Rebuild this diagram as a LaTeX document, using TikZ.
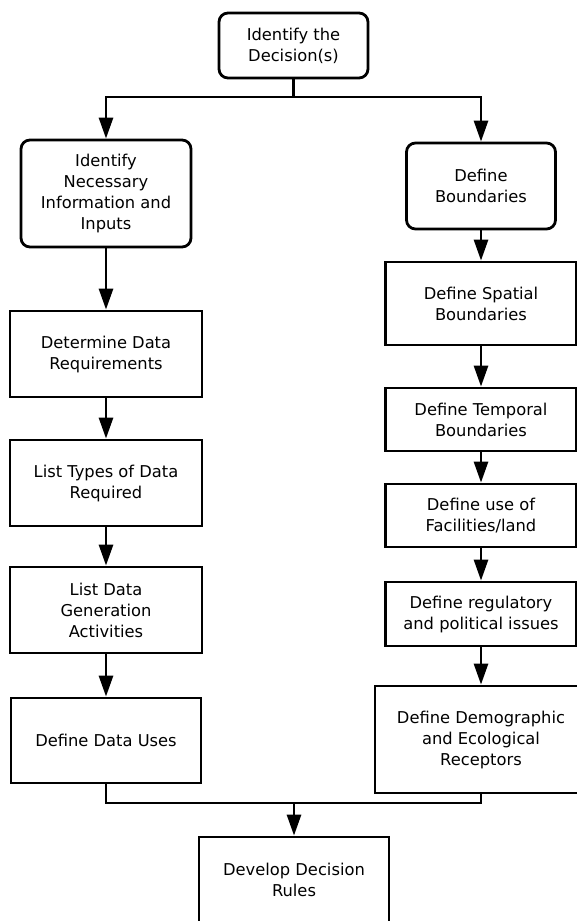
\documentclass[tikz,border=0pt]{standalone}
\usepackage{fontspec}
\setmainfont{DejaVu Sans}
\usepackage{tikz}
\usetikzlibrary{positioning, arrows, arrows.meta, shapes}
\tikzstyle{milestone} = [rectangle, rounded corners=9pt, draw=black, line width=2.8pt, inner sep=0pt, align=center, text=black, font=\fontsize{16.3}{21}\selectfont]
\tikzstyle{task} = [rectangle, draw=black, line width=2.8pt, inner sep=0pt, align=center, text=black, font=\fontsize{16.3}{21}\selectfont]
\tikzstyle{arrow} = [line width=2.8pt, -{Triangle[length=21pt, width=14pt]}]
\tikzstyle{line} = [line width=2.8pt]

\begin{document}
\begin{tikzpicture}[x=1pt, y=-1pt]
            \clip (0,0) rectangle (577,921);
            \fill[white] (0,0) rectangle (577,921);

            % top of the tree
            \node (decision) [milestone, minimum width=149pt, minimum height=65pt] at (293.5,45.5) {Identify the\\Decision(s)};

            % left branch
            \node (necessary) [milestone, minimum width=170pt, minimum height=107pt] at (106,193.5) {Identify\\Necessary\\Information and\\Inputs};
            \node (requirements) [task, minimum width=192pt, minimum height=86pt] at (106,354) {Determine Data\\Requirements};
            \node (types) [task, minimum width=192pt, minimum height=86pt] at (106,483) {List Types of Data\\Required};
            \node (generation) [task, minimum width=192pt, minimum height=86pt] at (106,610) {List Data\\Generation\\Activities};
            \node (uses) [task, minimum width=190pt, minimum height=85pt] at (106,740.5) {Define Data Uses};

            % right branch
            \node (boundaries) [milestone, minimum width=149pt, minimum height=86pt] at (481,186) {Define\\Boundaries};
            \node (spatial) [task, minimum width=191pt, minimum height=83pt] at (481,303.5) {Define Spatial\\Boundaries};
            \node (temporal) [task, minimum width=191pt, minimum height=63pt] at (481,419.5) {Define Temporal\\Boundaries};
            \node (facilities) [task, minimum width=191pt, minimum height=63pt] at (481,515.5) {Define use of\\Facilities/land};
            \node (regulatory) [task, minimum width=191pt, minimum height=64pt] at (481,614) {Define regulatory\\and political issues};
            \node (receptors) [task, minimum width=212pt, minimum height=107pt] at (481,739.5) {Define Demographic\\and Ecological\\Receptors};

            % bottom
            \node (rules) [task, minimum width=190pt, minimum height=86pt] at (294,880) {Develop Decision\\Rules};

            \coordinate (split) at (293.5,97);
            \coordinate (merge) at (294,803);

            \draw [line] (decision) -- (split);
            \draw [arrow] (split) -| (necessary);
            \draw [arrow] (split) -| (boundaries);

            \draw [arrow] (necessary) -- (requirements);
            \draw [arrow] (requirements) -- (types);
            \draw [arrow] (types) -- (generation);
            \draw [arrow] (generation) -- (uses);

            \draw [arrow] (boundaries) -- (spatial);
            \draw [arrow] (spatial) -- (temporal);
            \draw [arrow] (temporal) -- (facilities);
            \draw [arrow] (facilities) -- (regulatory);
            \draw [arrow] (regulatory) -- (receptors);

            \draw [line] (uses) |- (merge);
            \draw [line] (receptors) |- (merge);
            \draw [arrow] (merge) -- (rules);

\end{tikzpicture}
\end{document}
